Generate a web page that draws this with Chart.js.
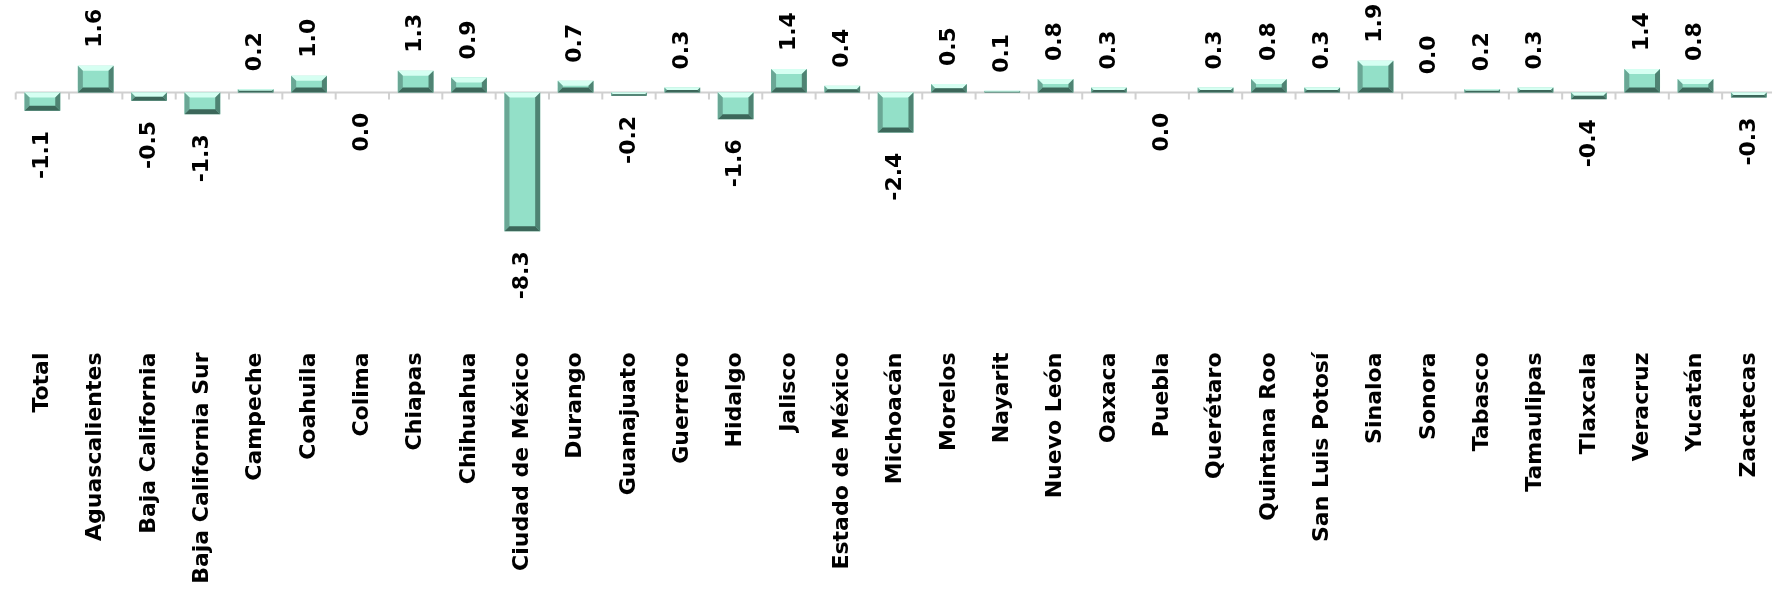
<!DOCTYPE html>
<html>
<head>
<meta charset="utf-8">
<script src="https://cdn.jsdelivr.net/npm/chart.js@4/dist/chart.umd.min.js"></script>
<style>
  html, body { margin: 0; padding: 0; background: #fff; overflow: hidden; }
  #wrap { width: 1818px; height: 603px; }
</style>
</head>
<body>
<div id="wrap"><canvas id="grafico"></canvas></div>
<script>
// Datos
const estados = ['Total', 'Aguascalientes', 'Baja California', 'Baja California Sur', 'Campeche', 'Coahuila',
  'Colima', 'Chiapas', 'Chihuahua', 'Ciudad de México', 'Durango', 'Guanajuato', 'Guerrero', 'Hidalgo',
  'Jalisco', 'Estado de México', 'Michoacán', 'Morelos', 'Nayarit', 'Nuevo León', 'Oaxaca', 'Puebla',
  'Querétaro', 'Quintana Roo', 'San Luis Potosí', 'Sinaloa', 'Sonora', 'Tabasco', 'Tamaulipas',
  'Tlaxcala', 'Veracruz', 'Yucatán', 'Zacatecas'];
const variacion = [-1.1, 1.6, -0.5, -1.3, 0.2, 1.0, -0.01, 1.3, 0.9, -8.3, 0.7, -0.2, 0.3, -1.6,
  1.4, 0.4, -2.4, 0.5, 0.1, 0.8, 0.3, -0.01, 0.3, 0.8, 0.3, 1.9, 0.01, 0.2, 0.3,
  -0.4, 1.4, 0.8, -0.3];

const fuente = 'bold 22px "DejaVu Sans", sans-serif';

function etiqueta(v) {
  const t = Math.abs(v) < 0.05 ? '0.0' : v.toFixed(1);
  return t;
}

// Barras con bisel y etiquetas de valor
const biselPlugin = {
  id: 'bisel',
  afterDatasetsDraw(chart) {
    const ctx = chart.ctx;
    const meta = chart.getDatasetMeta(0);
    const x = chart.scales.x;
    const y0 = chart.scales.y.getPixelForValue(0);

    // línea cero y marcas
    ctx.save();
    ctx.strokeStyle = '#d0d0d0';
    ctx.lineWidth = 2;
    ctx.beginPath();
    ctx.moveTo(chart.chartArea.left, y0);
    ctx.lineTo(chart.chartArea.right, y0);
    const paso = x.getPixelForValue(1) - x.getPixelForValue(0);
    for (let i = 0; i <= estados.length; i++) {
      const px = x.getPixelForValue(0) - paso / 2 + i * paso;
      ctx.moveTo(px, y0);
      ctx.lineTo(px, y0 + 7);
    }
    ctx.stroke();

    meta.data.forEach((bar, i) => {
      const v = variacion[i];
      const w = bar.width;
      const l = bar.x - w / 2, r = bar.x + w / 2;
      const t = Math.min(bar.y, bar.base), b = Math.max(bar.y, bar.base);
      const h = b - t;
      if (h > 0.5) {
        const e = Math.min(5, h / 2);
        ctx.fillStyle = '#93e0c8';
        ctx.fillRect(l, t, w, h);
        // arriba
        ctx.fillStyle = '#d6fff2';
        ctx.beginPath(); ctx.moveTo(l, t); ctx.lineTo(r, t); ctx.lineTo(r - e, t + e); ctx.lineTo(l + e, t + e); ctx.fill();
        // izquierda
        ctx.fillStyle = '#6aa795';
        ctx.beginPath(); ctx.moveTo(l, t); ctx.lineTo(l + e, t + e); ctx.lineTo(l + e, b - e); ctx.lineTo(l, b); ctx.fill();
        // derecha
        ctx.fillStyle = '#4f8373';
        ctx.beginPath(); ctx.moveTo(r, t); ctx.lineTo(r - e, t + e); ctx.lineTo(r - e, b - e); ctx.lineTo(r, b); ctx.fill();
        // abajo
        ctx.fillStyle = '#3c675a';
        ctx.beginPath(); ctx.moveTo(l, b); ctx.lineTo(l + e, b - e); ctx.lineTo(r - e, b - e); ctx.lineTo(r, b); ctx.fill();
      }

      // etiqueta rotada
      ctx.save();
      ctx.fillStyle = '#000';
      ctx.font = fuente;
      ctx.textBaseline = 'middle';
      if (v >= 0) {
        ctx.translate(bar.x, t - 18);
        ctx.rotate(-Math.PI / 2);
        ctx.textAlign = 'left';
      } else {
        ctx.translate(bar.x, b + 20);
        ctx.rotate(-Math.PI / 2);
        ctx.textAlign = 'right';
      }
      ctx.fillText(etiqueta(v), 0, 0);
      ctx.restore();
    });
    ctx.restore();
  }
};

new Chart(document.getElementById('grafico'), {
  type: 'bar',
  data: {
    labels: estados,
    datasets: [{
      data: variacion,
      backgroundColor: 'rgba(0,0,0,0)',
      categoryPercentage: 1,
      barPercentage: 0.67
    }]
  },
  options: {
    responsive: true,
    maintainAspectRatio: false,
    animation: false,
    layout: { padding: { left: 2, right: 0, top: 0, bottom: 0 } },
    plugins: { legend: { display: false }, tooltip: { enabled: false } },
    scales: {
      x: {
        grid: { display: false },
        border: { display: false },
        ticks: {
          color: '#000',
          font: { family: '"DejaVu Sans", sans-serif', size: 22, weight: 'bold' },
          maxRotation: 90,
          minRotation: 90,
          padding: 43,
          autoSkip: false
        }
      },
      y: {
        display: false,
        min: -12.5,
        max: 5.53
      }
    }
  },
  plugins: [biselPlugin]
});
</script>
</body>
</html>
